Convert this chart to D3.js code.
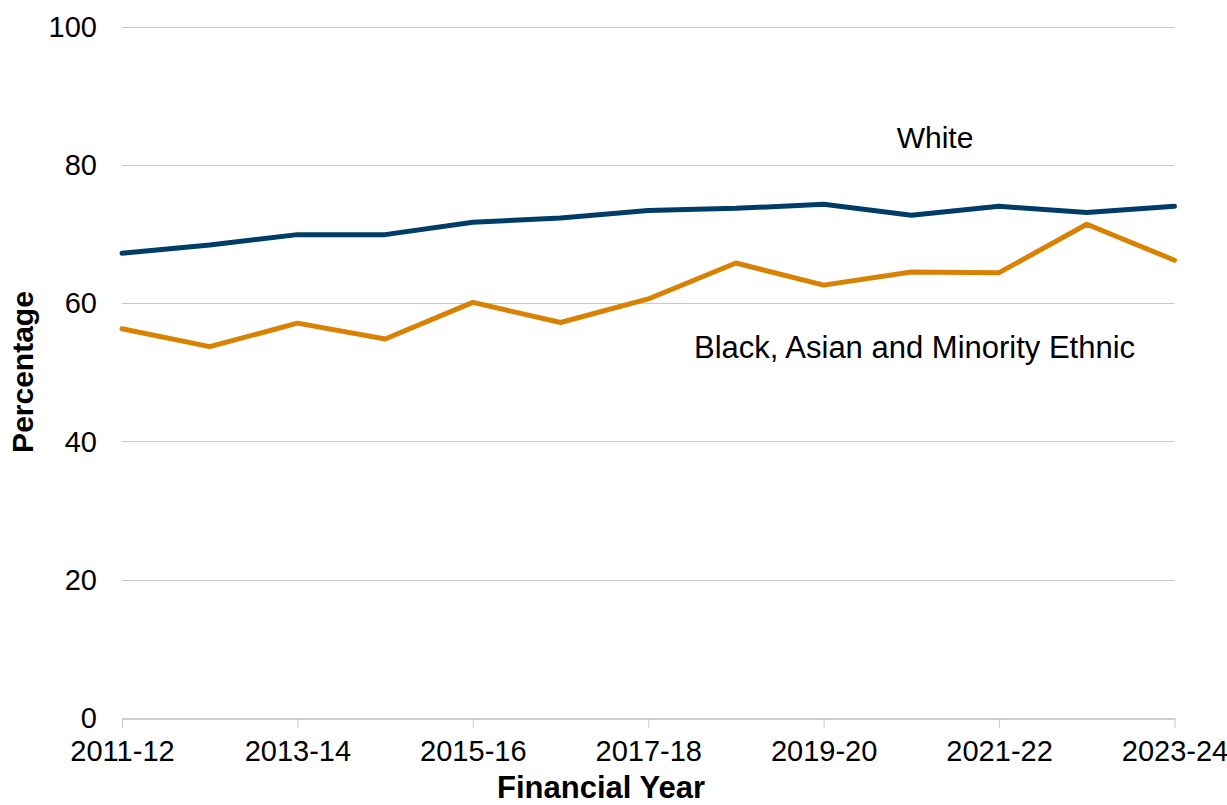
<!DOCTYPE html>
<html>
<head>
<meta charset="utf-8">
<script src="https://cdn.jsdelivr.net/npm/d3@7"></script>
<style>
  html, body { margin: 0; padding: 0; background: #ffffff; }
  svg text { font-family: "Liberation Sans", Arial, sans-serif; fill: #000; }
</style>
</head>
<body>
<svg id="chart" width="1227" height="805"></svg>
<script>
// Financial years on the x axis
const years = ["2011-12","2012-13","2013-14","2014-15","2015-16","2016-17","2017-18",
               "2018-19","2019-20","2020-21","2021-22","2022-23","2023-24"];
// Percentage by ethnic group
const white = [67.2, 68.4, 69.9, 69.9, 71.7, 72.3, 73.4, 73.7, 74.3, 72.7, 74.0, 73.1, 74.0];
const bame  = [56.3, 53.7, 57.1, 54.8, 60.1, 57.2, 60.6, 65.8, 62.6, 64.5, 64.4, 71.4, 66.2];
const yTicks = [0, 20, 40, 60, 80, 100];
const xTickLabels = ["2011-12","2013-14","2015-16","2017-18","2019-20","2021-22","2023-24"];

const svg = d3.select("#chart");
const plotLeft = 122, plotRight = 1174.5, plotTop = 26.5, plotBottom = 718;

const x = d3.scalePoint().domain(years).range([plotLeft, plotRight]);
const y = d3.scaleLinear().domain([0, 100]).range([plotBottom, plotTop]);

// Horizontal gridlines and y labels
const yAxis = d3.axisLeft(y).tickValues(yTicks).tickSize(0).tickPadding(25)
  .tickFormat(d3.format("d"));
const gy = svg.append("g").attr("transform", `translate(${plotLeft},0)`).call(yAxis);
gy.select(".domain").remove();
gy.selectAll("text").style("font-size", "29px").attr("dy", "0.34em");
svg.append("g").selectAll("line").data(yTicks.filter(d => d > 0)).join("line")
  .attr("x1", plotLeft).attr("x2", plotRight)
  .attr("y1", d => Math.round(y(d)) + 0.5).attr("y2", d => Math.round(y(d)) + 0.5)
  .attr("stroke", "#c8c8c8").attr("stroke-width", 1);

// x axis with ticks on every other year
const xAxis = d3.axisBottom(x).tickValues(xTickLabels).tickSize(9).tickPadding(13).tickSizeOuter(0);
const gx = svg.append("g").attr("transform", `translate(0,${plotBottom + 0.5})`).call(xAxis);
gx.select(".domain").attr("stroke", "#bdbdbd").attr("stroke-width", 1.3);
gx.selectAll(".tick line").attr("stroke", "#c8c8c8");
gx.selectAll("text").style("font-size", "29px").attr("dy", "0.71em");

// Series lines
const line = d3.line().x((d, i) => x(years[i])).y(d => y(d));
svg.append("path").datum(white).attr("d", line)
  .attr("fill", "none").attr("stroke", "#003c68").attr("stroke-width", 5)
  .attr("stroke-linejoin", "round").attr("stroke-linecap", "round");
svg.append("path").datum(bame).attr("d", line)
  .attr("fill", "none").attr("stroke", "#d98100").attr("stroke-width", 5)
  .attr("stroke-linejoin", "round").attr("stroke-linecap", "round");

// Series labels
svg.append("text").attr("x", 935).attr("y", 148).attr("text-anchor", "middle")
  .style("font-size", "30px").text("White");
svg.append("text").attr("x", 694).attr("y", 358)
  .style("font-size", "31px").text("Black, Asian and Minority Ethnic");

// Axis titles
svg.append("text").attr("x", 601).attr("y", 798).attr("text-anchor", "middle")
  .style("font-size", "31px").style("font-weight", "bold").text("Financial Year");
svg.append("text").attr("transform", "translate(33,372) rotate(-90)")
  .attr("text-anchor", "middle")
  .style("font-size", "30px").style("font-weight", "bold").text("Percentage");
</script>
</body>
</html>
